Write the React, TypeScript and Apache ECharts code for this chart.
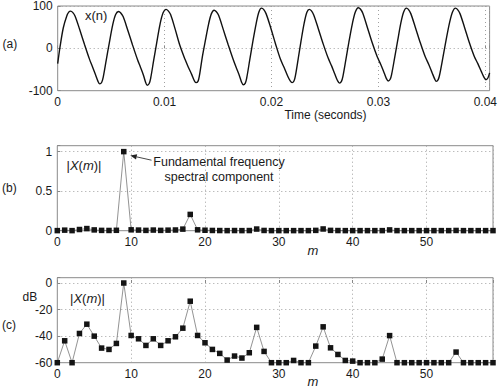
import React, { useEffect, useRef } from 'react';
import * as echarts from 'echarts';

// ---- Data ----
const timeTicks = [0, 0.01, 0.02, 0.03, 0.04];
const ampTicks = [-100, 0, 100];
const binTicks = [0, 10, 20, 30, 40, 50];
const linTicks = [0, 0.5, 1];
const dbTicks = [-60, -40, -20, 0];

// x(n): [time (s), amplitude]
const waveform: [number, number][] = [
  [0, -36], [0.00021, 2], [0.00052, 48], [0.00084, 76], [0.00105, 86], [0.00121, 88],
  [0.0014, 85], [0.00163, 76], [0.00205, 45], [0.00251, 9], [0.00298, -26], [0.00326, -44],
  [0.00353, -62], [0.00377, -78], [0.00393, -84], [0.00412, -80], [0.00426, -68], [0.00454, -28],
  [0.00482, 12], [0.00514, 55], [0.00542, 80], [0.0057, 87],
  [0.00588, 84], [0.00612, 75], [0.00654, 44], [0.007, 8], [0.00747, -27], [0.00775, -45],
  [0.00803, -64], [0.00822, -80], [0.00837, -87], [0.00856, -83], [0.0087, -70], [0.00898, -28],
  [0.00926, 13], [0.00958, 58], [0.00986, 84], [0.01014, 92],
  [0.01032, 89], [0.01056, 80], [0.01098, 46], [0.01144, 6], [0.01191, -26], [0.01221, -44],
  [0.01254, -62], [0.01277, -76], [0.01293, -81], [0.01312, -78], [0.01326, -64], [0.01353, -20],
  [0.01381, 18], [0.01412, 58], [0.01438, 82], [0.01463, 90],
  [0.01482, 87], [0.01505, 78], [0.01547, 46], [0.01594, 9], [0.0164, -25], [0.01668, -44],
  [0.01699, -64], [0.0172, -80], [0.01736, -86], [0.01755, -82], [0.01768, -70], [0.01796, -28],
  [0.01824, 14], [0.01856, 58], [0.01882, 86], [0.01907, 95],
  [0.01926, 92], [0.01949, 82], [0.01991, 50], [0.02037, 11], [0.02084, -26], [0.02119, -46],
  [0.02152, -66], [0.02175, -77], [0.02192, -81], [0.0221, -77], [0.02224, -64], [0.0225, -24],
  [0.02276, 17], [0.02306, 60], [0.02331, 85], [0.02353, 92],
  [0.02372, 89], [0.02395, 79], [0.02437, 47], [0.02484, 10], [0.0253, -23], [0.02563, -42],
  [0.02594, -62], [0.02617, -76], [0.02636, -82], [0.02654, -78], [0.02668, -66], [0.02696, -26],
  [0.02724, 15], [0.02756, 58], [0.02784, 86], [0.02812, 96],
  [0.02831, 93], [0.02854, 83], [0.02896, 50], [0.02942, 13], [0.02989, -20], [0.03022, -38],
  [0.03054, -58], [0.03076, -72], [0.03091, -77], [0.0311, -73], [0.03124, -61], [0.03152, -22],
  [0.0318, 18], [0.0321, 60], [0.03236, 86], [0.03262, 95],
  [0.0328, 92], [0.03303, 82], [0.03345, 50], [0.03392, 13], [0.03438, -20], [0.03471, -38],
  [0.03503, -58], [0.03526, -72], [0.03541, -78], [0.03559, -74], [0.03573, -62], [0.03603, -22],
  [0.03632, 18], [0.03665, 60], [0.03693, 86], [0.03721, 95],
  [0.03739, 92], [0.03763, 82], [0.03805, 50], [0.03851, 13], [0.03898, -20], [0.0393, -36],
  [0.03963, -55], [0.03987, -68], [0.04005, -74], [0.04024, -70], [0.0404, -58],
];

// bin index m = 0..59
const bins = [
  0, 1, 2, 3, 4, 5, 6, 7, 8, 9, 10, 11, 12, 13, 14, 15, 16, 17, 18, 19,
  20, 21, 22, 23, 24, 25, 26, 27, 28, 29, 30, 31, 32, 33, 34, 35, 36, 37, 38, 39,
  40, 41, 42, 43, 44, 45, 46, 47, 48, 49, 50, 51, 52, 53, 54, 55, 56, 57, 58, 59,
];

// |X(m)| normalised, linear
const magLinear = [
  0.001, 0.007, 0.001, 0.015, 0.027, 0.01, 0.004, 0.003, 0.005, 1.0,
  0.011, 0.008, 0.004, 0.008, 0.004, 0.007, 0.009, 0.02, 0.206, 0.011,
  0.006, 0.003, 0.002, 0.001, 0.002, 0.001, 0.002, 0.021, 0.003, 0.001,
  0.001, 0.001, 0.001, 0.001, 0.001, 0.004, 0.022, 0.004, 0.002, 0.001,
  0.001, 0.001, 0.001, 0.001, 0.001, 0.01, 0.001, 0.001, 0.001, 0.001,
  0.001, 0.001, 0.001, 0.001, 0.003, 0.001, 0.001, 0.001, 0.001, 0.001,
];

// |X(m)| in dB (floored at -60)
const magDb = [
  -60, -43.5, -60, -38, -31, -40, -49, -50, -45.5, 0,
  -39.5, -42, -47, -42, -47, -43.5, -40.5, -34, -13.7, -39.5,
  -45, -50, -53, -58, -55, -56.5, -52.5, -33.4, -51.5, -60,
  -60, -60, -58.3, -60, -60, -47.5, -33, -48.8, -53.8, -58.3,
  -58.8, -60, -60, -60, -57.3, -39.6, -60, -60, -60, -60,
  -60, -60, -60, -60, -52, -60, -60, -60, -60, -60,
];

const FONT = '"Liberation Sans", Arial, Helvetica, sans-serif';
const TXT = '#1a1a1a';

const only = (allowed: number[]) => (v: number) => {
  const hit = allowed.find((a) => Math.abs(a - v) < 1e-9);
  return hit === undefined ? '' : String(hit);
};

const gridDots = { color: '#a0a0a0', type: [1, 3] as number[], width: 1 };

function xAxisOf(gridIndex: number, min: number, max: number, interval: number, ticks: number[]) {
  return {
    type: 'value', gridIndex, min, max, interval,
    axisLine: { show: false },
    axisTick: { show: true, inside: true, length: 3, lineStyle: { color: '#888' } },
    axisLabel: { formatter: only(ticks), margin: 5, fontSize: 12, color: TXT, fontFamily: FONT, showMaxLabel: true },
    splitLine: { show: true, lineStyle: gridDots },
  };
}
function yAxisOf(gridIndex: number, min: number, max: number, interval: number, ticks: number[]) {
  return {
    type: 'value', gridIndex, min, max, interval,
    axisLine: { show: false },
    axisTick: { show: true, inside: true, length: 3, lineStyle: { color: '#888' } },
    axisLabel: { formatter: only(ticks), margin: 5, fontSize: 12, color: TXT, fontFamily: FONT },
    splitLine: { show: true, lineStyle: gridDots },
  };
}

const txt = (x: number, y: number, text: string, align = 'left', extra: any = {}) => ({
  type: 'text', x, y, silent: true,
  style: { text, x: 0, y: 0, fill: TXT, fontSize: 12, fontFamily: FONT, align, verticalAlign: 'middle', ...extra },
});

const richMag = {
  n: { fontSize: 13, fontFamily: FONT, fill: TXT, color: TXT },
  i: { fontSize: 13, fontFamily: FONT, fontStyle: 'italic', fill: TXT, color: TXT },
};

export default function App() {
  const ref = useRef<HTMLDivElement>(null);
  useEffect(() => {
    if (!ref.current) return;
    const chart = echarts.init(ref.current, undefined, { renderer: 'svg' });
    const frame = { show: true, borderColor: '#8a8a8a', borderWidth: 1, backgroundColor: 'transparent' };
    const spectrumSeries = (idx: number, values: number[]) => ({
      type: 'line', xAxisIndex: idx, yAxisIndex: idx,
      data: bins.map((m, i) => [m, values[i]]),
      symbol: 'rect', symbolSize: 5.5, showSymbol: true, clip: false,
      itemStyle: { color: '#141414' },
      lineStyle: { color: '#777', width: 0.8 },
      z: 3,
    });
    chart.setOption({
      animation: false,
      backgroundColor: '#fff',
      grid: [
        { left: 57.7, top: 4.7, width: 434.8, height: 86, ...frame },
        { left: 57.3, top: 145.7, width: 435.7, height: 85, ...frame },
        { left: 57.3, top: 277.7, width: 435.7, height: 85, ...frame },
      ],
      xAxis: [
        xAxisOf(0, 0, 0.0404, 0.01, timeTicks),
        xAxisOf(1, 0, 59, 10, binTicks),
        xAxisOf(2, 0, 59, 10, binTicks),
      ],
      yAxis: [
        yAxisOf(0, -100, 100, 100, ampTicks),
        yAxisOf(1, 0, 1.075, 0.5, linTicks),
        yAxisOf(2, -60, 4, 20, dbTicks),
      ],
      series: [
        {
          type: 'line', xAxisIndex: 0, yAxisIndex: 0, data: waveform,
          showSymbol: false, smooth: 0.32,
          lineStyle: { color: '#111', width: 1.4 }, z: 3,
        },
        spectrumSeries(1, magLinear),
        spectrumSeries(2, magDb),
      ],
    });

    const peak = chart.convertToPixel({ xAxisIndex: 1, yAxisIndex: 1 } as any, [9, 1]) as number[];
    const tip = [peak[0] + 6.5, peak[1] + 3.8];
    const tail = [151.5, 160.2];
    const dx = tail[0] - tip[0], dy = tail[1] - tip[1];
    const len = Math.hypot(dx, dy);
    const ux = dx / len, uy = dy / len;
    const hl = 6.5, hw = 2.6;
    const bx = tip[0] + ux * hl, by = tip[1] + uy * hl;

    chart.setOption({
      graphic: [
        txt(2.5, 44, '(a)'),
        txt(2, 188, '(b)'),
        txt(2, 325, '(c)'),
        txt(85, 15, 'x(n)', 'left', { fontSize: 13 }),
        txt(325.5, 115, 'Time (seconds)', 'center'),
        txt(66.5, 165, '{n||}{i|X}{n|(}{i|m}{n|)|}', 'left', { rich: richMag }),
        txt(70, 298, '{n||}{i|X}{n|(}{i|m}{n|)|}', 'left', { rich: richMag }),
        txt(22.5, 296.5, 'dB'),
        txt(313, 250, 'm', 'center', { fontStyle: 'italic', fontSize: 13 }),
        txt(313, 381, 'm', 'center', { fontStyle: 'italic', fontSize: 13 }),
        txt(219, 162.3, 'Fundamental frequency', 'center', { fontSize: 12.5 }),
        txt(219, 176.7, 'spectral component', 'center', { fontSize: 12.5 }),
        {
          type: 'line', silent: true,
          shape: { x1: bx, y1: by, x2: tail[0], y2: tail[1] },
          style: { stroke: '#333', lineWidth: 0.9 },
        },
        {
          type: 'polygon', silent: true,
          shape: {
            points: [
              [tip[0], tip[1]],
              [bx - uy * hw, by + ux * hw],
              [bx + uy * hw, by - ux * hw],
            ],
          },
          style: { fill: '#222' },
        },
      ],
    });
    return () => chart.dispose();
  }, []);
  return (
    <div
      ref={ref}
      style={{ position: 'absolute', left: 0, top: 0, width: 500, height: 387, background: '#fff' }}
    />
  );
}
